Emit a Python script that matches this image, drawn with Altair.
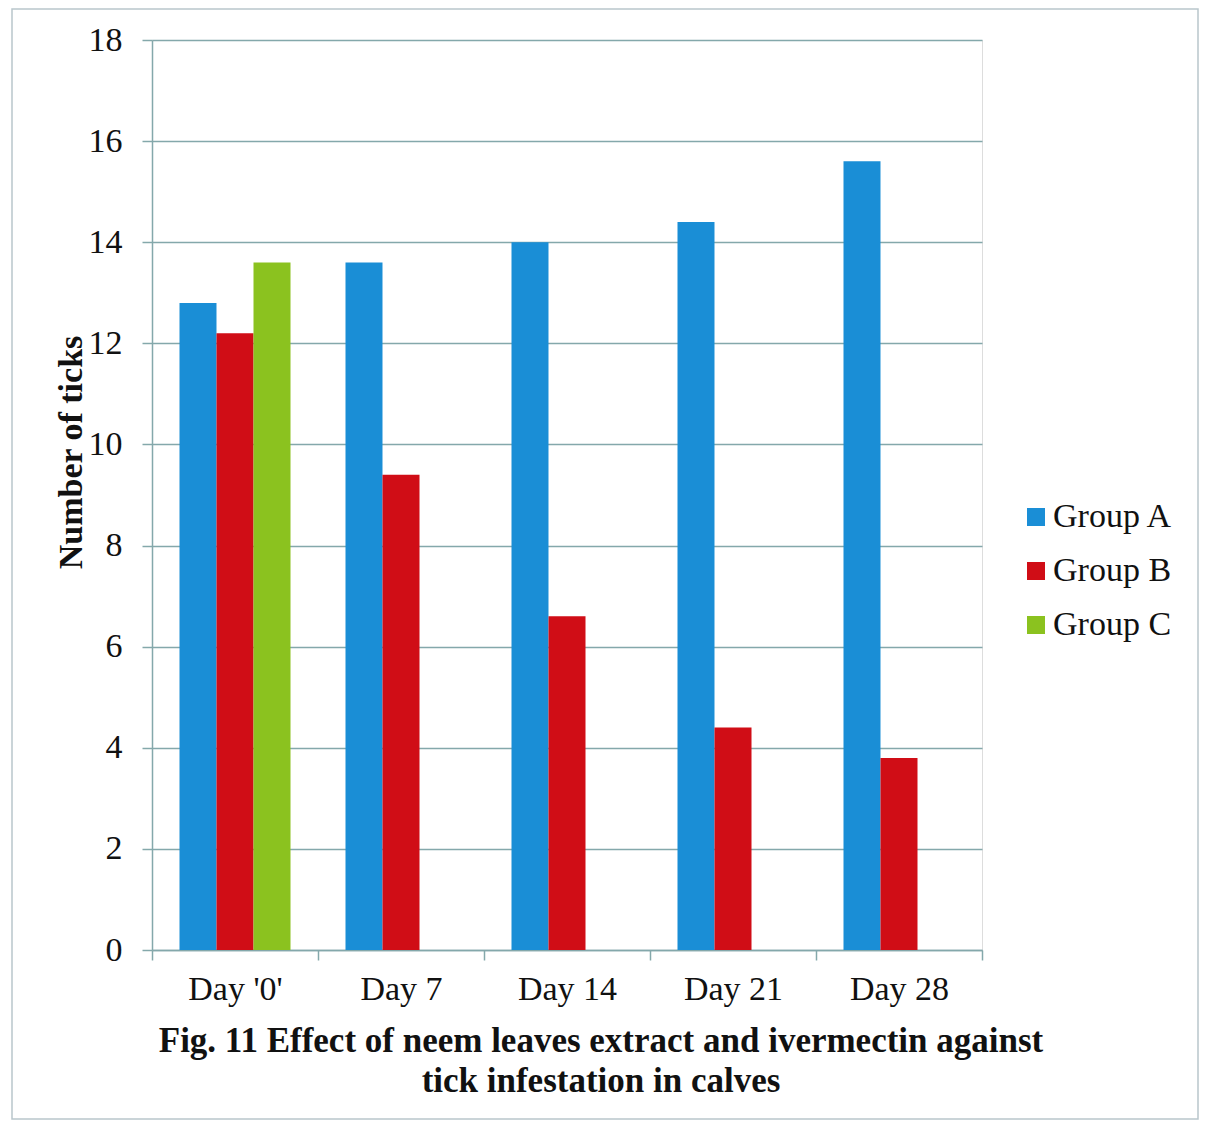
import altair as alt
import pandas as pd

days = ["Day '0'", "Day 7", "Day 14", "Day 21", "Day 28"]
groups = ["Group A", "Group B", "Group C"]
group_a = [12.8, 13.6, 14.0, 14.4, 15.6]
group_b = [12.2, 9.4, 6.6, 4.4, 3.8]
group_c = [13.6, None, None, None, None]
colors = ["#1a8ed6", "#d00d16", "#8bc21f"]
caption = ["Fig. 11 Effect of neem leaves extract and ivermectin against",
           "tick infestation in calves"]

rows = []
for i, d in enumerate(days):
    for g, vals in zip(groups, [group_a, group_b, group_c]):
        if vals[i] is not None:
            rows.append({"day": d, "group": g, "value": vals[i]})
df = pd.DataFrame(rows)

FONT = "Liberation Serif"
GRID = "#84a8ab"
FS = 34

bars = alt.Chart(df).mark_bar().encode(
    x=alt.X("day:N", sort=days,
            scale=alt.Scale(domain=days, paddingInner=0, paddingOuter=0),
            axis=alt.Axis(title=None, labelAngle=0, labelFont=FONT, labelFontSize=FS,
                          labelColor="#111111", labelPadding=12, tickBand="extent",
                          tickSize=10, tickColor=GRID, domainColor=GRID, domainWidth=1.5,
                          tickWidth=1.5, grid=False)),
    xOffset=alt.XOffset("group:N", scale=alt.Scale(domain=groups, paddingInner=0, paddingOuter=0.743)),
    y=alt.Y("value:Q",
            scale=alt.Scale(domain=[0, 18], nice=False),
            axis=alt.Axis(title="Number of ticks", values=list(range(0, 19, 2)),
                          labelFont=FONT, labelFontSize=FS, labelColor="#111111",
                          labelPadding=20, tickSize=10, tickColor=GRID, tickWidth=1.5,
                          domainColor=GRID, domainWidth=1.5, gridColor=GRID, gridWidth=1.5,
                          titleFont=FONT, titleFontSize=FS, titleFontWeight="bold",
                          titleColor="#111111", titleX=-71, titleY=412,
                          titleAlign="center", titleBaseline="alphabetic", titleAngle=-90)),
    color=alt.Color("group:N", scale=alt.Scale(domain=groups, range=colors),
                    legend=alt.Legend(title=None, orient="none", legendX=867, legendY=460,
                                      symbolType="square", symbolSize=324, symbolStrokeWidth=0,
                                      labelFont=FONT, labelFontSize=FS, labelColor="#111111",
                                      rowPadding=20, labelOffset=0)),
)

border = alt.Chart(pd.DataFrame({"a": [0]})).mark_rect(
    fill=None, stroke="#b9c6cc", strokeWidth=1.5
).encode(x=alt.value(-140), x2=alt.value(1046), y=alt.value(-31), y2=alt.value(1079))

cap1 = alt.Chart(pd.DataFrame({"line": [caption[0]]})).mark_text(
    font=FONT, fontSize=35, fontWeight="bold", color="#111111", align="center", baseline="middle"
).encode(text="line:N", x=alt.value(449), y=alt.value(1001))
cap2 = alt.Chart(pd.DataFrame({"line": [caption[1]]})).mark_text(
    font=FONT, fontSize=35, fontWeight="bold", color="#111111", align="center", baseline="middle"
).encode(text="line:N", x=alt.value(449), y=alt.value(1041))

chart = alt.layer(border, bars, cap1, cap2).properties(
    width=830, height=910,
    autosize=alt.AutoSizeParams(type="none"),
    padding={"left": 144, "top": 32, "right": 217, "bottom": 171},
).configure_view(stroke=None).configure(background="white")

chart.save("out.html", embed_options={"renderer": "svg", "actions": False})
